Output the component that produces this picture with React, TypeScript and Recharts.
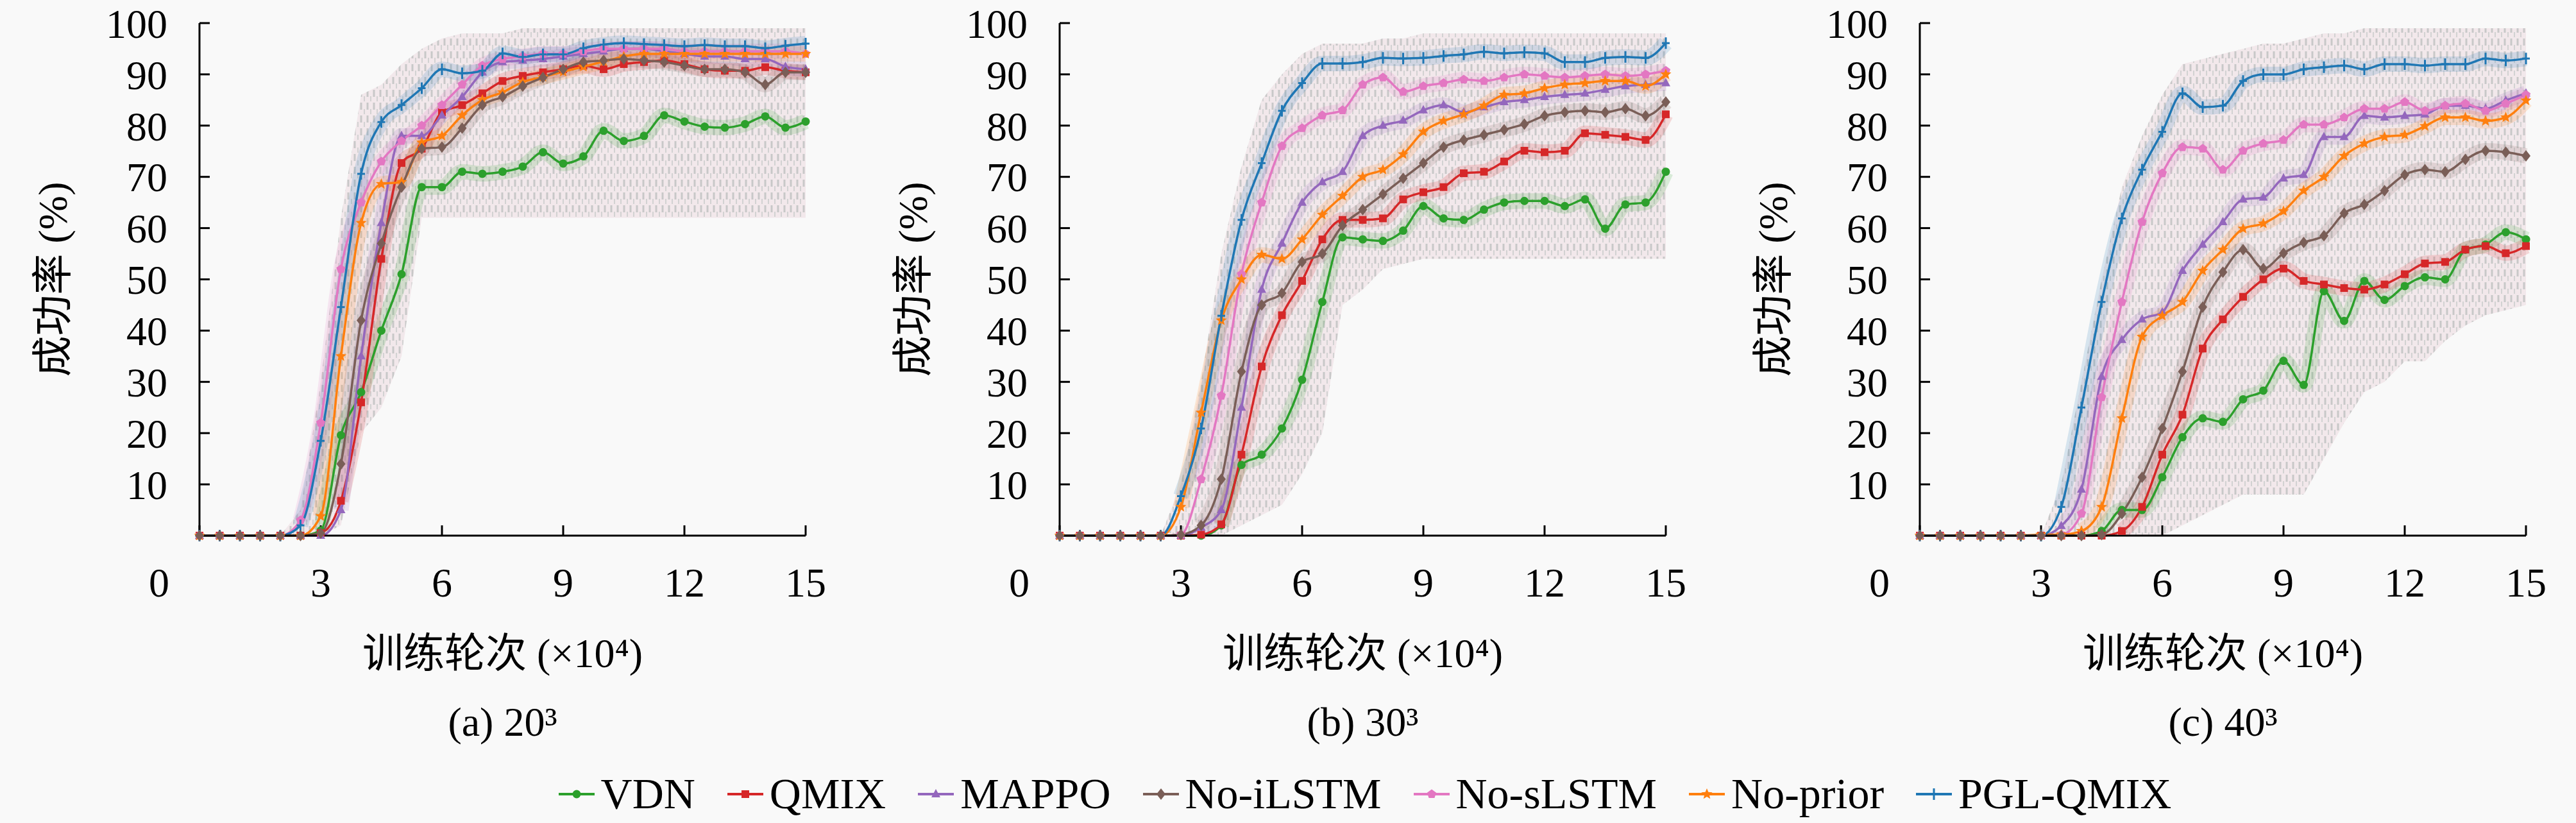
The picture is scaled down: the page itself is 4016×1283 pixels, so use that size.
import { ComposedChart, Line, Area, XAxis, YAxis, Label, Legend } from "recharts";

const STEPS = [0, 0.5, 1, 1.5, 2, 2.5, 3, 3.5, 4, 4.5, 5, 5.5, 6, 6.5, 7, 7.5, 8, 8.5, 9, 9.5, 10, 10.5, 11, 11.5, 12, 12.5, 13, 13.5, 14, 14.5, 15];
const X_TICKS = [0, 3, 6, 9, 12, 15];
const Y_TICKS = [10, 20, 30, 40, 50, 60, 70, 80, 90, 100];

// (a) 20^3
const vdn20 = [0, 0, 0, 0, 0, 0, 1, 19.6, 28, 40, 51, 68, 68, 71, 70.6, 71, 72, 74.8, 72.6, 74, 79, 77, 78, 82, 80.8, 79.8, 79.6, 80.3, 81.8, 79.6, 80.8];
const qmix20 = [0, 0, 0, 0, 0, 0, 0.5, 6.8, 26, 54, 72.7, 75.5, 82.6, 84, 86.3, 88.7, 89.7, 90.4, 91, 91.7, 91, 92, 92.4, 92.7, 92, 91, 90.7, 90.7, 91.4, 90.7, 90.4];
const mappo20 = [0, 0, 0, 0, 0, 0, 0, 5, 35, 61, 78, 78, 82, 85.6, 90.4, 92.4, 92.7, 93, 93.5, 94, 94.5, 95, 95, 94.5, 94, 93.5, 93.5, 93, 93, 91.5, 91];
const ilstm20 = [0, 0, 0, 0, 0, 0, 0.5, 14, 42, 57, 68, 75.5, 75.8, 79.5, 84, 85.6, 87.7, 89.4, 91, 92.4, 92.7, 93, 92.7, 92.4, 91.7, 91, 91, 90.4, 88, 90.4, 90.4];
const slstm20 = [0, 0, 0, 0, 0, 3, 22, 52, 65, 73, 77, 80, 84, 88, 91.7, 93, 93.5, 94, 94, 94.5, 95, 95, 95, 95, 94.5, 94.5, 94.5, 94.5, 94.5, 94.5, 94];
const prior20 = [0, 0, 0, 0, 0, 0, 3.8, 35, 61, 68.6, 69, 76.7, 78, 82, 85, 86.5, 88.5, 89.5, 90.5, 91.5, 92.5, 93.5, 94, 94, 94, 94, 94, 94, 94, 94, 94];
const pgl20 = [0, 0, 0, 0, 0, 2, 18.5, 44.6, 70.6, 80.7, 84, 87.3, 91, 90.2, 90.7, 94.1, 93.4, 93.9, 93.9, 95.1, 95.8, 96.1, 95.9, 95.7, 95.5, 95.7, 95.5, 95.5, 95.1, 95.6, 96];
const lo20 = [0, 0, 0, 0, 0, 0, 0, 2, 20, 25, 35, 62, 62, 62, 62, 62, 62, 62, 62, 62, 62, 62, 62, 62, 62, 62, 62, 62, 62, 62, 62];
const hi20 = [0, 0, 0, 0, 0, 5, 30, 62, 86, 88, 92, 95, 97, 98, 98, 98, 99, 99, 99, 99, 99, 99, 99, 99, 99, 99, 99, 99, 99, 99, 99];

// (b) 30^3
const vdn30 = [0, 0, 0, 0, 0, 0, 0, 0, 2, 13.8, 15.8, 20.9, 30.4, 45.6, 58.2, 57.8, 57.5, 59.5, 64.3, 61.9, 61.6, 63.6, 65, 65.3, 65.3, 64.3, 65.6, 59.9, 64.6, 65, 71];
const qmix30 = [0, 0, 0, 0, 0, 0, 0, 0.2, 2.2, 15.8, 33, 43, 49.7, 57.8, 61.6, 61.6, 61.9, 65.6, 67, 68, 70.7, 71, 73, 75.1, 74.8, 75.1, 78.5, 78.2, 77.8, 77.2, 82.2];
const mappo30 = [0, 0, 0, 0, 0, 0, 0, 1.6, 5, 25, 48, 57, 65, 69, 71, 78, 80, 81, 83, 84, 82.6, 83.6, 84.6, 85, 85.6, 86, 86.3, 87, 87.7, 88, 88.3];
const ilstm30 = [0, 0, 0, 0, 0, 0, 0.2, 2, 11, 32, 45, 47.3, 53.4, 55, 60.5, 63.6, 66.6, 69.7, 72.7, 75.8, 77.2, 78.2, 79.2, 80.3, 81.9, 82.6, 82.9, 82.6, 83.3, 81.9, 84.6];
const slstm30 = [0, 0, 0, 0, 0, 0, 0.2, 11, 27.3, 51, 65, 76, 79.5, 82, 83, 88, 89.4, 86.6, 87.7, 88.3, 89, 88.7, 89.4, 90, 89.7, 89.4, 89.7, 90, 89.7, 90, 90.7];
const prior30 = [0, 0, 0, 0, 0, 0, 5.6, 24, 42, 50, 54.8, 54, 57.8, 62.6, 66.3, 70, 71.4, 74.4, 78.8, 80.9, 82.2, 83.9, 86, 86.3, 87.3, 88, 88.3, 88.7, 88.7, 87.7, 90];
const pgl30 = [0, 0, 0, 0, 0, 0, 7.7, 20.9, 42.9, 61.6, 72.7, 82.9, 88.3, 92.1, 92.1, 92.4, 93.2, 93.1, 93.2, 93.6, 93.9, 94.4, 94.1, 94.3, 94.1, 92.4, 92.4, 93.2, 93.4, 93.2, 96.1];
const lo30 = [0, 0, 0, 0, 0, 0, 0, 0, 0, 2, 4, 6, 12, 20, 45, 48, 52, 53, 54, 54, 54, 54, 54, 54, 54, 54, 54, 54, 54, 54, 54];
const hi30 = [0, 0, 0, 0, 0, 0, 10, 30, 55, 72, 85, 90, 94, 96, 96, 96, 97, 97, 98, 98, 98, 98, 98, 98, 98, 98, 98, 98, 98, 98, 98];

// (c) 40^3
const vdn40 = [0, 0, 0, 0, 0, 0, 0, 0, 0, 0.9, 5, 5, 11.4, 19.2, 22.9, 22.2, 26.6, 28.3, 34.1, 29.4, 47.7, 41.9, 49.7, 46, 48.7, 50.4, 50, 55.8, 56.8, 59.2, 57.8];
const qmix40 = [0, 0, 0, 0, 0, 0, 0, 0, 0, 0, 0.9, 5.6, 15.8, 23.6, 36.5, 42.2, 46.6, 50, 52.1, 49.7, 49, 48.3, 48, 49, 51, 53.1, 53.4, 55.8, 56.5, 55.1, 56.5];
const mappo40 = [0, 0, 0, 0, 0, 0, 0, 1.9, 9, 31, 38.2, 42.2, 43.6, 51.7, 56.8, 61.2, 65.6, 66, 69.7, 70.4, 77.8, 77.8, 81.9, 81.6, 81.9, 82.2, 83.9, 83.9, 83.3, 84.9, 86.3];
const ilstm40 = [0, 0, 0, 0, 0, 0, 0, 0, 0, 0.2, 4.3, 11.4, 20.9, 32, 44.6, 51.4, 55.8, 52.1, 55.1, 57.2, 58.5, 62.9, 64.6, 67.3, 70.4, 71.4, 71, 73.4, 75.1, 74.8, 74.1];
const slstm40 = [0, 0, 0, 0, 0, 0, 0, 0.2, 4.3, 27, 45.6, 61.2, 70.7, 75.8, 75.5, 71.4, 75.1, 76.5, 77.2, 80.2, 80.2, 81.6, 83.3, 83.3, 84.6, 82.9, 83.9, 84.3, 82.9, 84.3, 86];
const prior40 = [0, 0, 0, 0, 0, 0, 0.2, 0.2, 0.9, 5.6, 22.9, 38.8, 42.9, 45.6, 51.7, 55.8, 59.9, 60.9, 63.3, 67.3, 70, 74.1, 76.5, 77.8, 78.2, 79.9, 81.6, 81.6, 80.9, 81.6, 84.9];
const pgl40 = [0, 0, 0, 0, 0, 0, 0, 5.6, 25, 45.6, 61.9, 71.4, 78.8, 86.3, 83.6, 83.9, 88.7, 90, 90, 91, 91.4, 91.7, 91, 92, 92, 91.7, 92, 92, 93.1, 92.7, 93.1];
const lo40 = [0, 0, 0, 0, 0, 0, 0, 0, 0, 0, 0, 0, 0, 2, 4, 6, 8, 8, 8, 8, 15, 22, 28, 30, 34, 34, 38, 41, 43, 44, 45];
const hi40 = [0, 0, 0, 0, 0, 0, 0, 10, 30, 50, 68, 78, 86, 92, 93, 94, 95, 96, 96, 97, 98, 98, 99, 99, 99, 99, 99, 99, 99, 99, 99];

const SERIES = [
  { key: "VDN", color: "#2ca02c", shape: "circle" },
  { key: "QMIX", color: "#d62728", shape: "square" },
  { key: "MAPPO", color: "#9467bd", shape: "triangle" },
  { key: "No-iLSTM", color: "#7a5e57", shape: "diamond" },
  { key: "No-sLSTM", color: "#e377c2", shape: "pentagon" },
  { key: "No-prior", color: "#ff7f0e", shape: "star" },
  { key: "PGL-QMIX", color: "#1f77b4", shape: "plus" },
];
// draw order (No-iLSTM on top, like the reference)
const DRAW_ORDER = ["VDN", "QMIX", "MAPPO", "No-sLSTM", "No-prior", "PGL-QMIX", "No-iLSTM"];

const FONT = '"Liberation Serif", "Noto Sans CJK SC", serif';

function buildRows(cols: Record<string, number[]>, lo: number[], hi: number[]) {
  return STEPS.map((step, i) => {
    const row: any = { step, band: [lo[i], hi[i]] };
    Object.keys(cols).forEach((k) => (row[k] = cols[k][i]));
    return row;
  });
}

const data20 = buildRows(
  { VDN: vdn20, QMIX: qmix20, MAPPO: mappo20, "No-iLSTM": ilstm20, "No-sLSTM": slstm20, "No-prior": prior20, "PGL-QMIX": pgl20 },
  lo20, hi20
);
const data30 = buildRows(
  { VDN: vdn30, QMIX: qmix30, MAPPO: mappo30, "No-iLSTM": ilstm30, "No-sLSTM": slstm30, "No-prior": prior30, "PGL-QMIX": pgl30 },
  lo30, hi30
);
const data40 = buildRows(
  { VDN: vdn40, QMIX: qmix40, MAPPO: mappo40, "No-iLSTM": ilstm40, "No-sLSTM": slstm40, "No-prior": prior40, "PGL-QMIX": pgl40 },
  lo40, hi40
);

function markerShape(shape: string, cx: number, cy: number, color: string, key?: string) {
  if (cx == null || cy == null) return <g key={key} />;
  switch (shape) {
    case "circle":
      return <circle key={key} cx={cx} cy={cy} r={6.5} fill={color} />;
    case "square":
      return <rect key={key} x={cx - 6} y={cy - 6} width={12} height={12} fill={color} />;
    case "triangle":
      return <path key={key} d={`M${cx},${cy - 8} L${cx + 7},${cy + 5} L${cx - 7},${cy + 5} Z`} fill={color} />;
    case "diamond":
      return <path key={key} d={`M${cx},${cy - 9} L${cx + 7},${cy} L${cx},${cy + 9} L${cx - 7},${cy} Z`} fill={color} />;
    case "pentagon": {
      const pts = [0, 1, 2, 3, 4]
        .map((k) => {
          const a = -Math.PI / 2 + (k * 2 * Math.PI) / 5;
          return `${cx + 7.5 * Math.cos(a)},${cy + 7.5 * Math.sin(a)}`;
        })
        .join(" ");
      return <polygon key={key} points={pts} fill={color} />;
    }
    case "star": {
      const pts = Array.from({ length: 10 })
        .map((_, k) => {
          const a = -Math.PI / 2 + (k * Math.PI) / 5;
          const r = k % 2 === 0 ? 9 : 4;
          return `${cx + r * Math.cos(a)},${cy + r * Math.sin(a)}`;
        })
        .join(" ");
      return <polygon key={key} points={pts} fill={color} />;
    }
    default:
      return (
        <path key={key} d={`M${cx},${cy - 9} V${cy + 9} M${cx - 6},${cy} H${cx + 6}`} stroke={color} strokeWidth={3} fill="none" />
      );
  }
}

const XTick = (props: any) => {
  const { x, y, payload } = props;
  const shift = payload.value === 0 ? -63 : 0;
  return (
    <text x={x + shift} y={y} dy="0.71em" textAnchor="middle" fontSize={64} fill="#000" fontFamily={FONT}>
      {payload.value}
    </text>
  );
};

const YTick = (props: any) => {
  const { x, y, payload } = props;
  return (
    <text x={x} y={y} dy="0.355em" textAnchor="end" fontSize={64} fill="#000" fontFamily={FONT}>
      {payload.value}
    </text>
  );
};

const renderLegend = () => (
  <div style={{ display: "flex", justifyContent: "center", alignItems: "center", fontFamily: FONT, fontSize: 68, color: "#000" }}>
    {SERIES.map((s, i) => (
      <div key={s.key} style={{ display: "flex", alignItems: "center", marginLeft: i === 0 ? 0 : 50 }}>
        <svg width={56} height={24} style={{ marginRight: 10 }}>
          <line x1={0} y1={12} x2={56} y2={12} stroke={s.color} strokeWidth={4} />
          {markerShape(s.shape, 28, 12, s.color)}
        </svg>
        <span>{s.key}</span>
      </div>
    ))}
  </div>
);

const axisStroke = { stroke: "#000", strokeWidth: 3 };

function Panel({ data, caption, left, id, legend }: { data: any[]; caption: string; left: number; id: string; legend?: boolean }) {
  return (
    <div style={{ position: "absolute", left, top: 0 }}>
      <ComposedChart width={1300} height={1283} data={data} margin={{ top: 36, right: 44, bottom: 0, left: 0 }}>
        <defs>
          <pattern id={`noise-${id}`} width="10" height="20" patternUnits="userSpaceOnUse">
            <rect width="10" height="20" fill="#f1e5e9" />
            <line x1="3" y1="0" x2="3" y2="11" stroke="#bfbfbf" strokeWidth="3" />
            <line x1="8" y1="10" x2="8" y2="18" stroke="#cbcbcb" strokeWidth="2" />
          </pattern>
        </defs>
        <XAxis
          dataKey="step"
          type="number"
          domain={[0, 15]}
          ticks={X_TICKS}
          height={448}
          tickSize={-16}
          tickMargin={66}
          axisLine={axisStroke}
          tickLine={axisStroke}
          tick={<XTick />}
        >
          <Label value="训练轮次 (×10⁴)" position="insideBottom" offset={243} style={{ fontSize: 64, fill: "#000", fontFamily: FONT }} />
          <Label value={caption} position="insideBottom" offset={136} style={{ fontSize: 64, fill: "#000", fontFamily: FONT }} />
        </XAxis>
        <XAxis
          xAxisId="top"
          orientation="top"
          dataKey="step"
          type="number"
          domain={[0, 15]}
          ticks={X_TICKS}
          height={0}
          tickSize={-16}
          axisLine={axisStroke}
          tickLine={axisStroke}
          tick={false}
        />
        <YAxis
          type="number"
          domain={[0, 100]}
          ticks={Y_TICKS}
          width={311}
          tickSize={-16}
          tickMargin={66}
          axisLine={axisStroke}
          tickLine={axisStroke}
          tick={<YTick />}
        >
          <Label value="成功率 (%)" angle={-90} position="insideLeft" offset={81} style={{ fontSize: 64, fill: "#000", fontFamily: FONT, textAnchor: "middle" }} />
        </YAxis>
        <YAxis
          yAxisId="right"
          orientation="right"
          type="number"
          domain={[0, 100]}
          ticks={Y_TICKS}
          width={0}
          tickSize={-16}
          axisLine={axisStroke}
          tickLine={axisStroke}
          tick={false}
        />
        <Area
          dataKey="band"
          type="linear"
          stroke="none"
          fill={`url(#noise-${id})`}
          fillOpacity={0.85}
          legendType="none"
          isAnimationActive={false}
          activeDot={false}
        />
        {/* pale coloured halo round each mean curve, like the per-run shading */}
        {DRAW_ORDER.map((name) => {
          const s = SERIES.find((v) => v.key === name)!;
          return (
            <Line
              key={`halo-${name}`}
              dataKey={(row: any) => (row[name] > 0.5 ? row[name] : null)}
              type="monotone"
              stroke={s.color}
              strokeOpacity={0.16}
              strokeWidth={24}
              dot={false}
              activeDot={false}
              legendType="none"
              isAnimationActive={false}
            />
          );
        })}
        {DRAW_ORDER.map((name) => {
          const s = SERIES.find((v) => v.key === name)!;
          return (
            <Line
              key={name}
              dataKey={name}
              name={name}
              type="monotone"
              stroke={s.color}
              strokeWidth={3.5}
              dot={(p: any) => markerShape(s.shape, p.cx, p.cy, s.color, `${name}-${p.index}`)}
              activeDot={false}
              isAnimationActive={false}
            />
          );
        })}
        {legend && (
          <Legend
            layout="horizontal"
            verticalAlign="middle"
            align="center"
            content={renderLegend}
            wrapperStyle={{ top: 1198, left: -563, width: 2700 }}
          />
        )}
      </ComposedChart>
    </div>
  );
}

export default function App() {
  return (
    <div style={{ position: "absolute", left: 0, top: 0, width: 4016, height: 1283, background: "#f9f9f9", fontFamily: FONT }}>
      <Panel data={data20} caption="(a) 20³" left={0} id="a" />
      <Panel data={data30} caption="(b) 30³" left={1341} id="b" legend />
      <Panel data={data40} caption="(c) 40³" left={2682} id="c" />
    </div>
  );
}
